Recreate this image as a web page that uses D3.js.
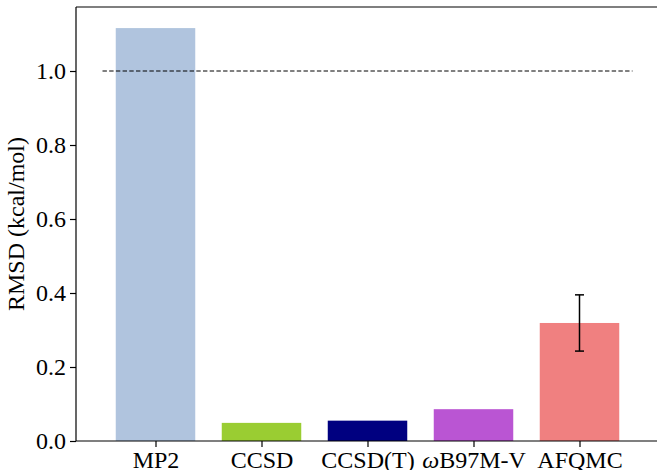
<!DOCTYPE html>
<html>
<head>
<meta charset="utf-8">
<script src="https://cdn.jsdelivr.net/npm/d3@7"></script>
<style>
  html, body { margin: 0; padding: 0; background: #fff; }
  svg { display: block; }
  text { font-family: "Liberation Serif", "DejaVu Serif", serif; fill: #000; }
</style>
</head>
<body>
<svg id="chart" width="657" height="470"></svg>
<script>
const categories = ["MP2", "CCSD", "CCSD(T)", "ωB97M-V", "AFQMC"];
const values = [1.116, 0.049, 0.055, 0.086, 0.319];
const errors = [null, null, null, null, 0.076];
const colors = ["#b0c4de", "#9acd32", "#000080", "#ba55d3", "#f08080"];
const yTicks = [0.0, 0.2, 0.4, 0.6, 0.8, 1.0];
const refLine = 1.0;

(function () {
const svg = d3.select("#chart");
const mLeft = 76, mTop = 7, mBottom = 441;

const x = d3.scaleLinear().domain([-0.75, 5]).range([mLeft, mLeft + 5.75 * 106]);
const y = d3.scaleLinear().domain([0, 1.173]).range([mBottom, mTop]);
const barW = 0.75;

// bars
svg.append("g").selectAll("rect").data(values).join("rect")
  .attr("x", (d, i) => x(i - barW / 2))
  .attr("width", (d, i) => x(i + barW / 2) - x(i - barW / 2))
  .attr("y", d => y(d))
  .attr("height", d => y(0) - y(d))
  .attr("fill", (d, i) => colors[i]);

// error bars
const eg = svg.append("g").attr("stroke", "#000").attr("stroke-width", 1.5);
values.forEach((v, i) => {
  const e = errors[i];
  if (e == null) return;
  const cx = x(i);
  eg.append("line").attr("x1", cx).attr("x2", cx).attr("y1", y(v - e)).attr("y2", y(v + e));
  [v - e, v + e].forEach(t => {
    eg.append("line").attr("x1", cx - 4.5).attr("x2", cx + 4.5).attr("y1", y(t)).attr("y2", y(t));
  });
});

// reference dashed line
svg.append("line")
  .attr("x1", x(-0.5)).attr("x2", x(4.5))
  .attr("y1", y(refLine)).attr("y2", y(refLine))
  .attr("stroke", "#000").attr("stroke-width", 1)
  .attr("stroke-dasharray", "4.4,2.3");

// y axis
const yAxis = d3.axisLeft(y).tickValues(yTicks).tickFormat(d3.format(".1f")).tickSize(6).tickPadding(4);
const gy = svg.append("g").attr("transform", `translate(${mLeft},0)`).call(yAxis);
gy.select(".domain").attr("d", `M0,${mTop}V${mBottom}`).attr("stroke", "#000").attr("stroke-width", 1.2);
gy.selectAll(".tick line").attr("stroke", "#000").attr("stroke-width", 1.2);
gy.selectAll(".tick text").style("font-family", '"Liberation Serif", serif').style("font-size", "24px").attr("fill", "#000");

// x axis
const xAxis = d3.axisBottom(x).tickValues(d3.range(categories.length)).tickFormat(() => "").tickSize(6);
const gx = svg.append("g").attr("transform", `translate(0,${mBottom})`).call(xAxis);
gx.select(".domain").attr("d", `M${mLeft},0H657`).attr("stroke", "#000").attr("stroke-width", 1.2);
gx.selectAll(".tick line").attr("stroke", "#000").attr("stroke-width", 1.2);
gx.selectAll(".tick").each(function(d) {
  const t = d3.select(this).append("text")
    .attr("y", 27).attr("text-anchor", "middle")
    .style("font-family", '"Liberation Serif", serif').style("font-size", "24px").attr("fill", "#000");
  const lab = categories[d];
  if (lab.startsWith("ω")) {
    t.append("tspan").attr("font-style", "italic").text("ω");
    t.append("tspan").text(lab.slice(1));
  } else {
    t.text(lab);
  }
});

// top spine
svg.append("line").attr("x1", mLeft).attr("x2", 657).attr("y1", mTop).attr("y2", mTop)
  .attr("stroke", "#000").attr("stroke-width", 1.2);

// y label
svg.append("text")
  .attr("transform", `translate(24,${(mTop + mBottom) / 2}) rotate(-90)`)
  .attr("text-anchor", "middle")
  .style("font-size", "24px")
  .text("RMSD (kcal/mol)");
})();
</script>
</body>
</html>
